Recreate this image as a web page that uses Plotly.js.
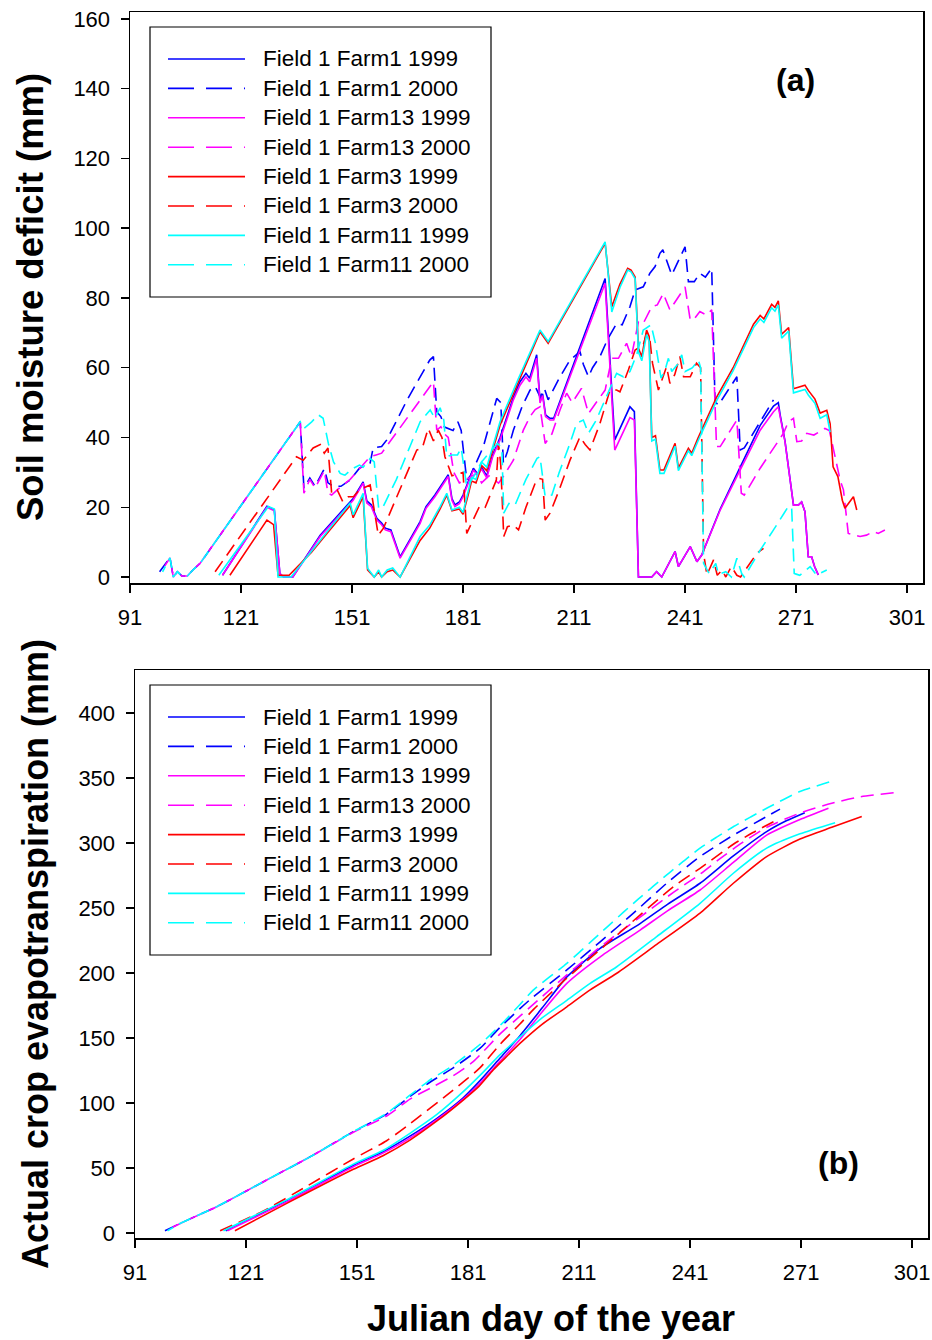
<!DOCTYPE html>
<html><head><meta charset="utf-8">
<script src="https://cdn.plot.ly/plotly-3.0.1.min.js"></script>
<style>html,body{margin:0;padding:0;background:#fff;}#chart{width:932px;height:1340px;}</style>
</head><body><div id="chart"></div>
<script>
// ---------- series identity ----------
const seriesNames = ["Field 1 Farm1 1999","Field 1 Farm1 2000","Field 1 Farm13 1999","Field 1 Farm13 2000",
                     "Field 1 Farm3 1999","Field 1 Farm3 2000","Field 1 Farm11 1999","Field 1 Farm11 2000"];
const xTicks = [91,121,151,181,211,241,271,301];
const yTicksA = [0,20,40,60,80,100,120,140,160];
const yTicksB = [0,50,100,150,200,250,300,350,400];

// ---------- (a) soil moisture deficit (mm): [day, value] ----------
const smd_F1_1999 = [[116,0.5],[128,20.3],[130,19.3],[131.5,1],[132.5,0],[135,0],[142.4,12],[151.3,22.5],[154,27.3],[155,21.8],[156.2,20.7],[157.7,16.8],[159,15.5],[160,14],[161.5,13.5],[164,5.8],[169.4,15.9],[171,20.2],[173.4,23.5],[175.7,27.4],[177,29.3],[178,22.5],[178.8,20.7],[180,21.5],[181,23.5],[183.8,31.2],[185,29.5],[186,31.5],[187.4,29],[189,35],[191,40],[194.6,51.5],[196.4,56],[198,58.4],[199,57],[200.9,63.7],[201.8,50.5],[202.5,52.5],[203.3,46.5],[204.5,45.5],[205.5,45.5],[219.4,85.6],[222,39.3],[226.1,48.8],[227.3,47.4],[228.4,0],[232,0],[233.3,1.5],[234.7,0],[238.3,7.3],[239.2,3],[242.4,8.7],[244.2,4.4],[245.5,6.3],[250.5,19.5],[255.9,31.5],[261.3,43.5],[264.9,49],[266.2,50],[266.7,46.5],[268,39],[270.3,20.6],[271.6,20.6],[272.5,21.5],[273.4,18.7],[274.3,5.8],[275.2,5.8],[276,3],[277,0.6]];
const smd_F1_2000 = [[99,1.5],[101.8,5.5],[102.7,0],[103.8,1.5],[105,0.3],[106.5,0.3],[108,2],[110,4],[137,44.5],[138,25.5],[139.6,28.4],[141,26],[143.5,31],[144.5,27],[146,26],[148,26],[150.5,27.8],[153,31.2],[155.9,32.7],[156.7,37],[159,37.4],[160.4,39.3],[166,51],[172,62.2],[173,63.2],[173.9,47.4],[175,46],[176,43],[178.3,42],[179.6,44.5],[180.5,42],[182,27.8],[183,29],[186.5,37.4],[190.1,51.2],[191.2,50],[191.9,32.6],[193,36],[194.6,42.1],[197,49],[199.1,53.6],[200.5,54.6],[201.8,51.7],[203,54],[204,50.8],[207,57],[209.9,62.2],[212.6,64.6],[213.5,61],[214.9,57.4],[216,60],[218,63.2],[220,68],[222.5,72.7],[224,72.3],[226.1,77.5],[227.5,82.3],[229.7,83.2],[231.5,87.1],[232.9,89],[234.2,92.8],[235,93.8],[237.4,86.6],[239,90],[241,94.7],[241.9,84.7],[243.5,84.7],[245,87.1],[246.5,86],[248.2,88.5],[249.1,50.3],[250,49.3],[255,57.4],[255.9,36.4],[257,37],[264.9,50.8]];
const smd_F13_1999 = [[116,0.5],[128,20],[130,19],[131.5,1],[132.5,0],[135,0],[142.4,11.6],[151.3,22],[154,26.9],[155,21.2],[156.2,20.2],[157.7,16.3],[159,15],[160,13.5],[161.5,13],[164,5.4],[169.4,15.4],[171,19.7],[173.4,23],[175.7,26.9],[177,28.8],[178,22],[178.8,20.2],[180,21],[181,23],[183.8,30.7],[185,29],[186,31],[187.4,28.4],[189,34.5],[191,39.3],[194.6,50.8],[196.4,55],[198,57.4],[199,56],[200.9,62.7],[201.8,49.9],[202.5,52],[203.3,46],[204.5,45],[205.5,45],[219.4,84.2],[222,36.4],[226.1,45.7],[227.3,45],[228.4,0],[232,0],[233.3,1.5],[234.7,0],[238.3,7.3],[239.2,3],[242.4,8.7],[244.2,4.4],[245.5,6.3],[250.5,19.2],[255.9,30.7],[261.3,42.1],[264.9,47.4],[266.2,48.8],[266.7,46],[268,38.8],[270.3,20.6],[271.6,20.6],[272.5,21.5],[273.4,18.7],[274.3,5.8],[275.2,5.8],[276,3],[277,0.6]];
const smd_F13_2000 = [[99.4,1.5],[101.8,5.5],[102.7,0],[103.8,1.5],[105,0.3],[106.5,0.3],[108,2],[110,4],[137,44.5],[138,24],[139.6,28],[141,25.5],[143.5,30.5],[144.5,24],[145.5,23.5],[147,25],[150.5,28],[153,31],[155.9,34.5],[157.5,35],[159,35.5],[173,56],[173.9,42.1],[175,43.1],[176,41],[177,40],[178.5,30],[180,27],[182,28],[184.7,29.7],[186,27],[188,29],[190.6,26.9],[192,29],[194.6,33.5],[197.3,42.1],[199.1,46],[200.5,48],[201.8,48.8],[203.2,38.3],[205,41],[207.2,47.9],[209,52.7],[210.5,50],[213,54.1],[214.9,46.9],[217,50],[219.4,53.6],[221.2,62.7],[223,62.7],[225.2,67],[226.5,63.2],[228.4,73.2],[229.7,72.7],[232,77.5],[233.5,78],[235.1,81.3],[236.9,76.6],[241,83.2],[242.4,73.7],[243.5,74],[245,76.1],[246.8,75.1],[248.2,76.6],[249.5,37.4],[250.5,37.4],[255,45],[256.2,24],[257,23.5],[261.3,31.2],[267.6,41.2],[268.9,44.5],[270.3,45.5],[271.2,38.8],[272.5,39],[273.9,41.2],[275.8,40.7],[277.2,41.7],[278.8,42.6],[280,42],[282.9,27.8],[283.8,25],[285.1,12.5],[287,12],[288.3,11.6],[290,12],[291.9,13],[293.2,12.5],[295,13.5]];
const smd_F3_1999 = [[118,0.5],[128,16.3],[129.8,15],[131,0.5],[134,0.5],[140,7],[145,13.5],[150.5,20.5],[151.3,17],[154,23],[155.2,2],[157,0],[158.2,1.5],[159,0],[160.5,1.5],[162,2],[164,0],[169.4,10.5],[172,14],[174.8,19.5],[176.6,23.5],[178,19],[180,19.5],[181,18],[182.5,24],[183.3,27.5],[184.5,27],[186,32],[187.4,30.5],[191,43.5],[196,56],[201.8,70.3],[204,67],[219.4,95.7],[221.2,77.5],[223.4,84],[225.5,88.5],[226.4,88],[227.5,86],[228.4,65.6],[229.3,63.2],[230.6,70.8],[231.3,69],[232,40],[233,40.5],[234.2,30.7],[235.3,30.7],[238.3,38.3],[239.2,31.2],[241.9,36.9],[242.8,35.5],[244.5,39.8],[249.5,51.5],[254,60],[259.5,72.5],[261.3,75],[262.3,74],[264.4,78.2],[265.3,77.3],[266.2,79.2],[267.1,69.6],[269,71.5],[270.3,54],[273.4,55],[274.3,53.5],[276.1,51],[277.5,47],[279.3,47.8],[280.2,44],[281,31.6],[282.3,28.8],[283.5,22],[284.2,19.7],[286.5,23],[287.4,19.2]];
const smd_F3_2000 = [[114,1.5],[136,34.5],[137.8,33.5],[139,35],[140.5,37],[142.4,38],[143.5,35.5],[144.5,37],[145.5,24],[147,25],[148.5,21.6],[150,23],[151.4,23],[153,25],[155.9,26.4],[158.1,12],[159.5,14],[163.1,23],[166,30],[168.5,36.4],[170,37],[171.6,42.6],[173,39],[174.3,42.1],[175.3,40],[176.1,34.5],[178,29],[179.5,29.5],[181,30],[182,12.5],[183.5,16],[185.6,20.6],[187,20],[190,27.8],[190.6,38.3],[191.2,32],[192,11.6],[193,14.4],[194.6,14.9],[196,13.5],[198,20],[200.5,26.9],[201.5,28.3],[202.5,28],[203.2,16.3],[204.5,18.3],[207,25],[209.9,33.5],[212.6,40.2],[214,38],[215.3,36.4],[218,44],[220.7,53.6],[222.5,53.6],[223.4,53.1],[225.7,59.4],[227.5,65.1],[229.7,66.5],[230.6,69.9],[231.5,68],[232.2,61.3],[233.8,53.6],[236,60.3],[236.9,55.5],[238.2,58],[239.6,63.2],[240.6,57.4],[242.4,57.4],[244.1,61.3],[245.2,60],[246,6.8],[246.9,0.6],[248.7,4.9],[249.7,0.5],[251,2],[252,0],[253.5,3],[255,0.5],[256,0],[260.4,6.8],[262.2,8.2]];
const smd_F11_1999 = [[115,0.5],[128.4,20.2],[130,19.5],[131,0],[134.5,0],[140,7.5],[145,14],[150.5,21.2],[151.3,17.8],[154,24],[155.2,2.5],[157,0],[158.2,2],[159,0],[160.5,2],[162,2.6],[164,0],[169.4,11.6],[172,14.9],[174.8,20.2],[176.6,24],[178,19.2],[180,20],[181,18.5],[182.5,25],[183.3,28.5],[184.5,28],[186,33],[187.4,31.5],[191,44.5],[196,57],[201.8,70.8],[204,67.5],[219.4,96.1],[221.2,76],[223.4,83],[225.5,88],[226.4,87.5],[227.5,85.5],[228.4,64.5],[229.3,62],[230.6,69.5],[231.3,67.5],[232,39],[233,39.5],[234.2,29.7],[235.3,29.7],[238.3,37.5],[239.2,30.5],[241.9,36.2],[242.8,34.8],[244.5,39],[249.5,50.5],[254,59.2],[259.5,71.5],[261.3,74],[262.3,73],[264.4,77.2],[265.3,76.2],[266.2,78],[267.1,68.5],[269,70.5],[270.3,52.8],[273.4,53.8],[274.3,52.2],[276.1,49.8],[277.5,45.5],[279.3,46.5],[280.2,41.5]];
const smd_F11_2000 = [[99.8,1.5],[101.8,5.5],[102.7,0],[103.8,1.5],[105,0.3],[106.5,0.3],[108,2],[110,4],[137,44.5],[138,42.6],[140.1,44.5],[141.9,46.5],[143.2,45.5],[144.6,38.3],[146,33],[147.8,29.7],[149.1,29.2],[151,31],[153,32.1],[154,31.5],[155.9,34],[157,33],[158.2,19.7],[159.2,19.7],[163,28],[169.4,44.5],[172.1,47.9],[173.4,45.5],[174.8,48.5],[175.8,45],[176.6,34.5],[178,35],[179.5,35],[180.5,37],[182,25.9],[184,29],[186,33],[188.4,36],[190.3,38.3],[191.5,37],[192,18.3],[193.4,21.1],[195,20.5],[198,28],[201,34],[201.8,34.5],[203.2,23],[205,23.5],[207,30],[209.9,38.3],[211.7,44.1],[213.5,45],[214.9,41.2],[217,45],[219.8,51.7],[221,55],[222.5,58.4],[224.3,57.4],[226.1,58.9],[228,64],[229.7,70.8],[231.8,72.3],[233,67],[234.5,57],[235.5,59],[236.5,62.7],[237.4,58.9],[239,61],[240.1,63.7],[241,58.9],[243,60],[244.6,62.2],[245.2,60],[246,3.9],[247.5,1],[249.3,3.9],[250,0.8],[252,1.5],[253.5,0],[255,5.4],[256.3,1],[257,0],[261.3,7.7],[264.9,13.5],[268.9,20.2],[269.8,20],[270.5,1],[272,0.5],[274.8,3],[276.5,0.6],[279.3,2]];

// ---------- (b) actual crop evapotranspiration (mm): [day, value] ----------
const et_F1_1999 = [[115.5,1.8],[132,25],[150,52],[158,62.5],[165.3,74.5],[172.5,88],[179.7,104],[184.5,118],[189.6,134.4],[195.1,152],[201,173],[207.7,197],[212,208],[216.7,219],[227.5,238],[235,253],[243.7,269],[252.7,290],[261.7,308.7],[267,317],[272,323.3]];
const et_F1_2000 = [[99.1,1.8],[103.2,7.4],[113.1,20.3],[126.6,40.8],[139.2,60],[150,78],[159,91.5],[165.3,105],[170.7,116],[177,127],[184.2,142],[189.6,158],[195.1,172.8],[198.7,181.8],[207.7,202.3],[216.7,224],[225.7,246],[234.7,269],[243.7,289.5],[252.7,306],[261.7,320.3],[265.3,326]];
const et_F13_1999 = [[116,1.8],[132,24],[150,51],[158,61.5],[165.3,73],[172.5,87],[179.7,103],[184.5,116],[189.6,132],[195.1,149],[201,170],[207.7,192],[217,213],[227.5,233],[235,248],[243.7,263.8],[252.7,285],[261.7,306],[270.7,318],[278.4,326.7]];
const et_F13_2000 = [[99.4,1.8],[103.2,7.4],[113.1,20.3],[126.6,40.8],[139.2,60],[150,77.5],[159,90],[165.3,103],[171.6,112.6],[177,121],[182.4,131.8],[189.6,153],[195.1,167],[198.7,176],[207.7,198.5],[216.7,220],[227.5,243],[236.5,262],[243.7,276],[249.1,288],[255,300],[261.7,312],[270.7,323],[279.3,330.5],[287,335.5],[296.4,338.7]];
const et_F3_1999 = [[118,1.8],[132,22.8],[150,49],[158,59.5],[165.3,71.5],[172.5,86],[179.7,102.3],[184,113],[187.8,125.4],[191.5,136],[195.1,146],[201,160.5],[207.7,174],[214,187],[221.2,199.8],[232,222],[243.7,246],[252.7,269],[261.7,289.5],[270.7,303],[279.3,312],[287.4,320.3]];
const et_F3_2000 = [[114,1.8],[125.7,17],[137.4,36],[150,57],[159,71],[165.3,84],[177,110],[184.2,127],[189.6,145],[195.1,161],[198.7,172],[207.7,196],[221.2,229],[236.5,266.4],[243.7,280.5],[252.7,299],[258,308],[264.4,317.5]];
const et_F11_1999 = [[114.9,1.8],[132,25.5],[150,53],[158,63.5],[165.3,76.7],[172.5,91],[179.7,108.7],[184.5,122],[189.6,137],[195.1,151],[201,165.5],[207.7,179],[214,192],[221.2,204.8],[232,228],[243.7,253.6],[252.7,276.7],[261.7,296],[270.7,307],[280.2,315.6]];
const et_F11_2000 = [[99.8,1.8],[103.2,7.4],[113.1,20.3],[126.6,40.8],[139.2,60],[150,78],[159,92],[165.3,106],[170.7,117.7],[177,129],[184.2,145],[190.5,162],[195.1,176],[198.7,187],[207.7,207.4],[216.7,230.5],[225.7,253.6],[234.7,275.4],[243.7,296],[252.7,312.5],[261.7,326.7],[270.7,339.5],[279.6,347.7]];

const panelA = [smd_F1_1999, smd_F1_2000, smd_F13_1999, smd_F13_2000, smd_F3_1999, smd_F3_2000, smd_F11_1999, smd_F11_2000];
const panelB = [et_F1_1999, et_F1_2000, et_F13_1999, et_F13_2000, et_F3_1999, et_F3_2000, et_F11_1999, et_F11_2000];

// ---------- styles ----------
const colors = ["#0000ff","#0000ff","#ff00ff","#ff00ff","#ff0000","#ff0000","#00ffff","#00ffff"];
const plotDash = ["solid","13px,7px","solid","0px,7px,13px,0px","solid","13px,7px","solid","6px,7px,7px,0px"];
const legendDash = ["solid","26px,12px","solid","26px,12px","solid","26px,12px","solid","26px,12px"];
const W = 932, H = 1340;
const px = v => v / W, py = v => 1 - v / H;
const FONT = "Liberation Sans, Arial, sans-serif";

const traces = [];
panelA.forEach((s, i) => traces.push({
  type: "scatter", mode: "lines", name: seriesNames[i], showlegend: false,
  x: s.map(p => p[0]), y: s.map(p => p[1]), xaxis: "x", yaxis: "y",
  line: {color: colors[i], width: 1.6, dash: plotDash[i]}
}));
panelB.forEach((s, i) => traces.push({
  type: "scatter", mode: "lines", name: seriesNames[i], showlegend: false,
  x: s.map(p => p[0]), y: s.map(p => p[1]), xaxis: "x2", yaxis: "y2",
  line: {color: colors[i], width: 1.6, dash: plotDash[i], shape: "spline", smoothing: 0.6}
}));

const axisCommon = {
  showgrid: false, zeroline: false, showline: true, linecolor: "#000", linewidth: 1.5,
  mirror: true, ticks: "outside", ticklen: 8, tickwidth: 1.5, tickcolor: "#000",
  tickfont: {family: FONT, size: 22, color: "#000"}, ticklabelstandoff: 6
};

const shapes = [], annotations = [];
function addLegend(top) {
  shapes.push({type: "rect", xref: "paper", yref: "paper",
    x0: px(150), x1: px(491), y0: py(top), y1: py(top + 270),
    line: {color: "#000", width: 1.2}, fillcolor: "rgba(255,255,255,0)"});
  seriesNames.forEach((n, i) => {
    const yy = top + 32 + i * 29.4;
    shapes.push({type: "line", xref: "paper", yref: "paper",
      x0: px(168), x1: px(245), y0: py(yy), y1: py(yy),
      line: {color: colors[i], width: 1.6, dash: legendDash[i]}});
    annotations.push({xref: "paper", yref: "paper", x: px(261), y: py(yy),
      xanchor: "left", yanchor: "middle", showarrow: false, text: n,
      font: {family: FONT, size: 22.5, color: "#000"}});
  });
}
addLegend(27);
addLegend(685);

annotations.push({xref: "paper", yref: "paper", x: px(795), y: py(80), showarrow: false,
  text: "<b>(a)</b>", font: {family: FONT, size: 32, color: "#000"}, xanchor: "center", yanchor: "middle"});
annotations.push({xref: "paper", yref: "paper", x: px(838), y: py(1163), showarrow: false,
  text: "<b>(b)</b>", font: {family: FONT, size: 32, color: "#000"}, xanchor: "center", yanchor: "middle"});
annotations.push({xref: "paper", yref: "paper", x: px(30), y: py(297), showarrow: false, textangle: -90,
  text: "<b>Soil moisture deficit (mm)</b>", font: {family: FONT, size: 36.5, color: "#000"}, xanchor: "center", yanchor: "middle"});
annotations.push({xref: "paper", yref: "paper", x: px(35), y: py(954), showarrow: false, textangle: -90,
  text: "<b>Actual crop evapotranspiration (mm)</b>", font: {family: FONT, size: 36, color: "#000"}, xanchor: "center", yanchor: "middle"});
annotations.push({xref: "paper", yref: "paper", x: px(551), y: py(1318), showarrow: false,
  text: "<b>Julian day of the year</b>", font: {family: FONT, size: 36, color: "#000"}, xanchor: "center", yanchor: "middle"});

const layout = {
  width: W, height: H, margin: {l: 0, r: 0, t: 0, b: 0},
  paper_bgcolor: "#fff", plot_bgcolor: "#fff", showlegend: false,
  font: {family: FONT, color: "#000"},
  xaxis: Object.assign({}, axisCommon, {domain: [px(130), px(923)], range: [91, 305.3], tickvals: xTicks, anchor: "y"}),
  yaxis: Object.assign({}, axisCommon, {domain: [py(583), py(12)], range: [-1.72, 162], tickvals: yTicksA, anchor: "x"}),
  xaxis2: Object.assign({}, axisCommon, {domain: [px(135), px(928)], range: [91, 305.3], tickvals: xTicks, anchor: "y2"}),
  yaxis2: Object.assign({}, axisCommon, {domain: [py(1238), py(670)], range: [-3.8, 433], tickvals: yTicksB, anchor: "x2"}),
  shapes: shapes, annotations: annotations
};

Plotly.newPlot("chart", traces, layout, {staticPlot: true, displayModeBar: false});
</script></body></html>
